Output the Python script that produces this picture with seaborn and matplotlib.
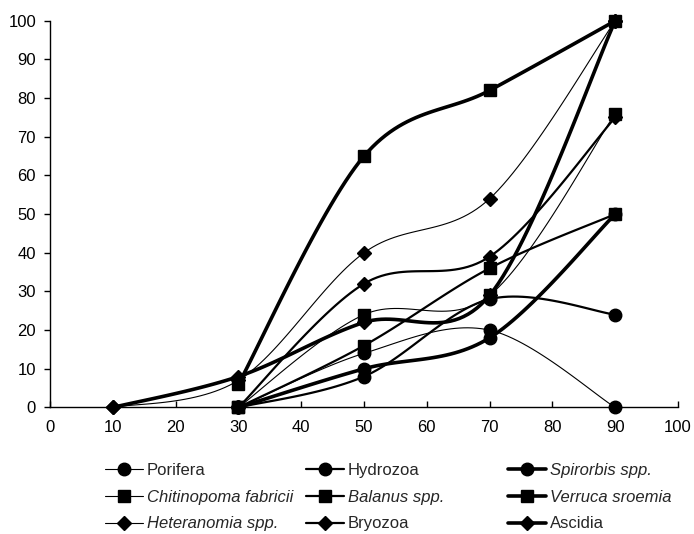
import numpy as np
import pandas as pd
import matplotlib
matplotlib.use("Agg")
import matplotlib.pyplot as plt
from matplotlib.lines import Line2D
import seaborn as sns

# ---- data ----
x_values = [10, 30, 50, 70, 90]
porifera = [np.nan, 0, 14, 20, 0]
hydrozoa = [np.nan, 0, 8, 28, 24]
spirorbis = [np.nan, 0, 10, 18, 50]
chitinopoma = [np.nan, 0, 24, 29, 76]
balanus = [np.nan, 0, 16, 36, 50]
verruca = [np.nan, 6, 65, 82, 100]
heteranomia = [0, 7, 40, 54, 100]
bryozoa = [np.nan, 0, 32, 39, 75]
ascidia = [0, 8, 22, 29, 100]

series_names = ["Porifera", "Hydrozoa", "Spirorbis spp.",
                "Chitinopoma fabricii", "Balanus spp.", "Verruca sroemia",
                "Heteranomia spp.", "Bryozoa", "Ascidia"]
series_values = [porifera, hydrozoa, spirorbis, chitinopoma, balanus,
                 verruca, heteranomia, bryozoa, ascidia]
italic_names = {"Spirorbis spp.", "Chitinopoma fabricii", "Balanus spp.",
                "Verruca sroemia", "Heteranomia spp."}
x_ticks = list(range(0, 101, 10))
y_ticks = list(range(0, 101, 10))

# styles
markers = ["o", "o", "o", "s", "s", "s", "D", "D", "D"]
msizes = [9, 9, 9, 9, 9, 9, 7, 7, 7]
lwidths = [0.8, 1.6, 2.6] * 3


def smooth(xs, ys, n=30):
    """Excel-like Bezier smoothing through the given points."""
    pts = np.column_stack([xs, ys])
    out = [pts[0]]
    m = len(pts)
    for i in range(m - 1):
        p0 = pts[i - 1] if i > 0 else pts[i]
        p1 = pts[i]
        p2 = pts[i + 1]
        p3 = pts[i + 2] if i + 2 < m else pts[i + 1]
        c1 = p1 + (p2 - p0) / 6.0
        c2 = p2 - (p3 - p1) / 6.0
        t = np.linspace(0, 1, n)[1:, None]
        b = ((1 - t) ** 3) * p1 + 3 * ((1 - t) ** 2) * t * c1 + \
            3 * (1 - t) * t ** 2 * c2 + t ** 3 * p2
        out.extend(b)
    out = np.array(out)
    return out[:, 0], out[:, 1]


sns.set_theme(style="ticks")
plt.rcParams["font.family"] = ["Liberation Sans", "DejaVu Sans"]

fig = plt.figure(figsize=(6.94, 5.34), dpi=100)
ax = fig.add_axes([0.072, 0.237, 0.905, 0.724])

handles = {}
for name, vals, mk, ms, lw in zip(series_names, series_values, markers,
                                  msizes, lwidths):
    xs = np.array(x_values, dtype=float)
    ys = np.array(vals, dtype=float)
    ok = ~np.isnan(ys)
    xs, ys = xs[ok], ys[ok]
    sx, sy = smooth(xs, ys)
    df = pd.DataFrame({"x": sx, "y": sy})
    sns.lineplot(data=df, x="x", y="y", sort=False, estimator=None,
                 color="black", linewidth=lw, ax=ax, clip_on=False)
    ax.plot(xs, ys, linestyle="none", marker=mk, markersize=ms,
            color="black", clip_on=False, zorder=5)
    handles[name] = Line2D([], [], color="black", linewidth=lw, marker=mk,
                           markersize=ms)

ax.set_xlim(0, 100)
ax.set_ylim(0, 100)
ax.set_xticks(x_ticks)
ax.set_yticks(y_ticks)
ax.set_xlabel("")
ax.set_ylabel("")
sns.despine(ax=ax)
ax.spines["left"].set_linewidth(1.0)
ax.spines["bottom"].set_linewidth(1.0)
ax.spines["left"].set_color("black")
ax.spines["bottom"].set_color("black")
ax.tick_params(axis="x", direction="in", length=4, width=1, pad=9,
               labelsize=12, colors="black")
ax.tick_params(axis="y", direction="out", length=4, width=1, pad=6,
               labelsize=12, colors="black")

# legend: three columns, placed separately
col_names = [["Porifera", "Chitinopoma fabricii", "Heteranomia spp."],
             ["Hydrozoa", "Balanus spp.", "Bryozoa"],
             ["Spirorbis spp.", "Verruca sroemia", "Ascidia"]]
col_x = [105, 306, 508]
for cx, names in zip(col_x, col_names):
    leg = fig.legend([handles[n] for n in names], names,
                     loc="upper left",
                     bbox_to_anchor=(cx / 694, 1 - 463 / 534),
                     frameon=False, fontsize=12, handlelength=2.3,
                     handletextpad=0.2, labelspacing=0.7,
                     borderaxespad=0, borderpad=0)
    for t in leg.get_texts():
        if t.get_text() in italic_names:
            t.set_fontstyle("italic")

fig.savefig("out.png", dpi=100)
